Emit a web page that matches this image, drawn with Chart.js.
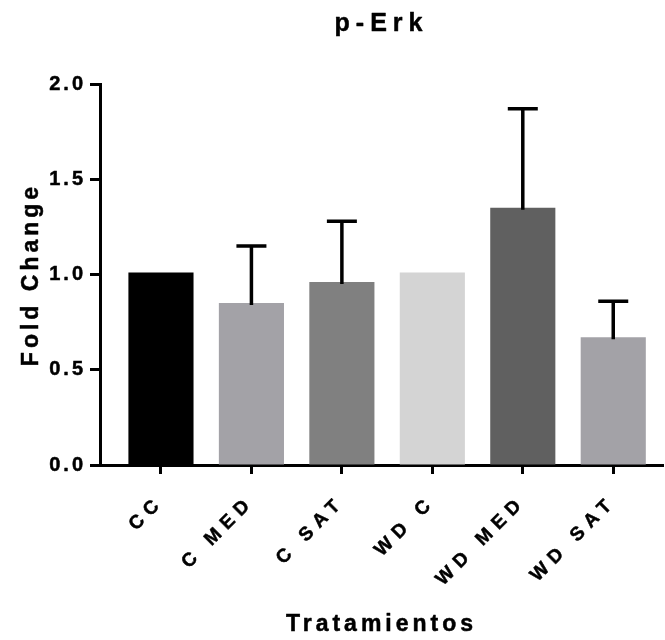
<!DOCTYPE html>
<html>
<head>
<meta charset="utf-8">
<script src="https://cdn.jsdelivr.net/npm/chart.js@4/dist/chart.umd.min.js"></script>
<style>
  html, body { margin: 0; padding: 0; background: #ffffff; }
  #wrap { width: 665px; height: 640px; }
</style>
</head>
<body>
<div id="wrap"><canvas id="c"></canvas></div>
<script>
const chartTitle = "p-Erk";
const categories = ["CC", "C MED", "C SAT", "WD C", "WD MED", "WD SAT"];
const foldChange = [1.01, 0.85, 0.96, 1.01, 1.35, 0.67];
const semUpper = [0, 0.30, 0.32, 0, 0.52, 0.19];
const barColors = ["#000000", "#a3a2a7", "#808080", "#d4d4d4", "#606060", "#a3a2a7"];
const yTicks = [0, 0.5, 1.0, 1.5, 2.0];
const yTitle = "Fold Change";
const xTitle = "Tratamientos";

const FONT = "'Liberation Sans', Arial, sans-serif";
// letter spacing (px) keyed by font size (px)
const spacingBySize = { 25: 6, 23: 4, 20: 3, 19: 6.5 };

function applySpacing(ctx) {
  const m = /(\d+(?:\.\d+)?)px/.exec(ctx.font || "");
  const size = m ? Math.round(parseFloat(m[1])) : 12;
  ctx.letterSpacing = (spacingBySize[size] || 0) + "px";
}

const spacingPlugin = {
  id: "spacing",
  beforeInit(chart) {
    const ctx = chart.ctx;
    const ft = ctx.fillText.bind(ctx);
    const st = ctx.strokeText.bind(ctx);
    const mt = ctx.measureText.bind(ctx);
    ctx.fillText = function (t, x, y, w) {
      applySpacing(ctx);
      const r = w === undefined ? ft(t, x, y) : ft(t, x, y, w);
      ctx.save();
      ctx.strokeStyle = ctx.fillStyle;
      ctx.lineWidth = 0.5;
      ctx.lineJoin = "round";
      if (w === undefined) st(t, x, y); else st(t, x, y, w);
      ctx.restore();
      return r;
    };
    ctx.measureText = function (t) { applySpacing(ctx); return mt(t); };
  }
};

const errorBarPlugin = {
  id: "errorBars",
  afterDatasetsDraw(chart) {
    const ctx = chart.ctx;
    const xs = chart.scales.x, ys = chart.scales.y;
    ctx.save();
    ctx.strokeStyle = "#000000";
    ctx.lineWidth = 3.5;
    ctx.lineCap = "butt";
    foldChange.forEach((v, i) => {
      if (!semUpper[i]) return;
      const x = xs.getPixelForValue(i);
      const y0 = ys.getPixelForValue(v) + 2;
      const y1 = ys.getPixelForValue(v + semUpper[i]);
      ctx.beginPath();
      ctx.moveTo(x, y0);
      ctx.lineTo(x, y1);
      ctx.moveTo(x - 15, y1);
      ctx.lineTo(x + 15, y1);
      ctx.stroke();
    });
    ctx.restore();
  }
};

new Chart(document.getElementById("c"), {
  type: "bar",
  data: {
    datasets: [{
      data: categories.map((c, i) => ({ x: i, y: foldChange[i] })),
      backgroundColor: barColors,
      borderWidth: 0,
      barPercentage: 0.72,
      categoryPercentage: 1.0
    }]
  },
  options: {
    responsive: true,
    maintainAspectRatio: false,
    animation: false,
    layout: { padding: { left: 0, right: 2, top: 0, bottom: 0 } },
    plugins: {
      legend: { display: false },
      tooltip: { enabled: false },
      title: {
        display: true,
        fullSize: false,
        text: chartTitle,
        color: "#000000",
        font: { family: FONT, size: 25, weight: "bold" },
        padding: { top: 9.6, bottom: 44.4 }
      }
    },
    scales: {
      x: {
        type: "linear",
        offset: false,
        min: -0.674,
        max: 5.55,
        afterBuildTicks(scale) { scale.ticks = categories.map((c, i) => ({ value: i })); },
        afterFit(scale) { scale.height = 175; },
        ticks: {
          autoSkip: false,
          minRotation: 45,
          maxRotation: 45,
          color: "#000000",
          font: { family: FONT, size: 19, weight: "bold" },
          padding: 17,
          callback: (v) => categories[v] !== undefined ? categories[v] : ""
        },
        grid: { display: true, offset: false, drawOnChartArea: false, drawTicks: true, tickLength: 9, tickWidth: 3, tickColor: "#000000" },
        border: { display: true, color: "#000000", width: 3 },
        title: {
          display: true,
          text: xTitle,
          color: "#000000",
          font: { family: FONT, size: 23, weight: "bold" },
          padding: { top: 0, bottom: 1.2 }
        }
      },
      y: {
        min: 0,
        max: 2.0,
        afterBuildTicks(scale) { scale.ticks = yTicks.map(v => ({ value: v })); },
        afterFit(scale) { scale.width = 100; },
        ticks: {
          color: "#000000",
          font: { family: FONT, size: 20, weight: "bold" },
          padding: 4,
          callback: (v) => Number(v).toFixed(1)
        },
        grid: { display: true, drawOnChartArea: false, drawTicks: true, tickLength: 10, tickWidth: 3, tickColor: "#000000" },
        border: { display: true, color: "#000000", width: 3 },
        title: {
          display: true,
          text: yTitle,
          color: "#000000",
          font: { family: FONT, size: 23, weight: "bold" },
          padding: { top: 18.2, bottom: 0 }
        }
      }
    }
  },
  plugins: [spacingPlugin, errorBarPlugin]
});
</script>
</body>
</html>
